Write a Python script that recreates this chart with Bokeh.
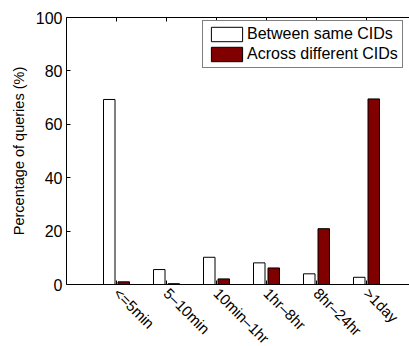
import math
from bokeh.plotting import figure
from bokeh.models import (ColumnDataSource, FixedTicker, LinearAxis, Range1d,
                          Legend, LegendItem)
from bokeh.embed import file_html
from bokeh.resources import INLINE

categories = ["<=5min", "5\u201310min", "10min\u20131hr", "1hr\u20138hr", "8hr\u201324hr", ">1day"]
same_cids = [69.3, 5.6, 10.2, 8.1, 4.0, 2.7]
diff_cids = [1.0, 0.3, 2.1, 6.2, 20.9, 69.5]
y_ticks = [0, 20, 40, 60, 80, 100]

idx = list(range(len(categories)))
src = ColumnDataSource(dict(
    x_same=[i - 0.145 for i in idx],
    x_diff=[i + 0.145 for i in idx],
    same=same_cids,
    diff=diff_cids,
))

FONT = "Liberation Sans"

p = figure(width=409, height=355, output_backend="svg", toolbar_location=None,
           x_range=Range1d(-1, 5.86), y_range=Range1d(0, 100),
           min_border_left=66, min_border_top=17, min_border_right=0,
           min_border_bottom=71, x_axis_location=None, y_axis_location=None)
p.outline_line_color = None
p.grid.visible = False

r1 = p.vbar(x="x_same", top="same", width=0.23, source=src,
            fill_color="white", line_color="black", line_width=1)
r2 = p.vbar(x="x_diff", top="diff", width=0.23, source=src,
            fill_color="#800000", line_color="black", line_width=1)

xt = FixedTicker(ticks=idx)
xb = LinearAxis(ticker=xt)
xb.major_label_overrides = {i: c for i, c in zip(idx, categories)}
xb.major_label_orientation = -math.pi / 4
xb.major_label_standoff = 6
xb.major_label_text_font = FONT
xb.major_label_text_font_size = "15px"
xb.major_label_text_color = "black"
xb.major_tick_in = 4
xb.major_tick_out = 0
xb.minor_tick_line_color = None
xb.axis_line_color = "black"
xb.major_tick_line_color = "black"
p.add_layout(xb, "below")

xa = LinearAxis(ticker=xt)
xa.major_label_overrides = {i: "" for i in idx}
xa.major_tick_in = 4
xa.major_tick_out = 0
xa.minor_tick_line_color = None
xa.axis_line_color = "black"
xa.major_tick_line_color = "black"
xa.major_label_standoff = 0
p.add_layout(xa, "above")

yl = LinearAxis(ticker=FixedTicker(ticks=y_ticks))
yl.axis_label = "Percentage of queries (%)"
yl.axis_label_text_font = FONT
yl.axis_label_text_font_size = "14.5px"
yl.axis_label_text_font_style = "normal"
yl.axis_label_text_color = "black"
yl.axis_label_standoff = 6
yl.major_label_text_font = FONT
yl.major_label_text_font_size = "16px"
yl.major_label_text_color = "black"
yl.major_tick_in = 4
yl.major_tick_out = 0
yl.minor_tick_line_color = None
yl.axis_line_color = "black"
yl.major_tick_line_color = "black"
yl.major_label_standoff = 4
p.add_layout(yl, "left")

legend = Legend(items=[LegendItem(label="Between same CIDs", renderers=[r1]),
                       LegendItem(label="Across different CIDs", renderers=[r2])],
                location=(136, 216))
legend.glyph_width = 39
legend.glyph_height = 18
legend.label_height = 18
legend.spacing = 2
legend.padding = 4
legend.margin = 0
legend.label_standoff = 1
legend.label_text_font = FONT
legend.label_text_font_size = "16px"
legend.label_text_color = "black"
legend.border_line_color = "black"
legend.border_line_width = 1
legend.background_fill_alpha = 1
p.add_layout(legend)

open("out.html", "w").write(file_html(p, INLINE))
